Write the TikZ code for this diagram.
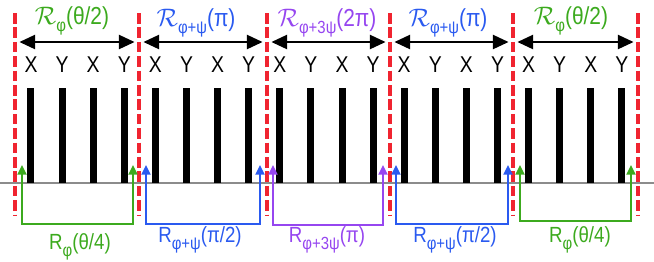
\documentclass[tikz,border=0pt]{standalone}
\usepackage{fontspec}
\setmainfont{Liberation Sans}[FakeStretch=0.85]
\usepackage{tikz}
\usetikzlibrary{arrows.meta}
\usepackage{xcolor}
\definecolor{cutred}{HTML}{F02430}
\definecolor{opgreen}{HTML}{3CAA1E}
\definecolor{opblue}{HTML}{2A5AF0}
\definecolor{oppurple}{HTML}{9646F0}
\definecolor{basegray}{HTML}{8C8C8C}
\newcommand{\subfont}{\fontsize{10}{11}\selectfont}
\newcommand{\opR}[2]{$\mathcal{R}$\raisebox{-0.6ex}{\subfont #1}(#2)}
\newcommand{\pulseR}[2]{R\raisebox{-0.65ex}{\subfont #1}(#2)}

\begin{document}
\begin{tikzpicture}[x=0.02cm, y=-0.02cm,
    cut/.style={draw=cutred, line width=2pt, dash pattern=on 6pt off 2.2pt},
    span/.style={draw=black, line width=1.4pt, {Triangle[length=9pt,width=8pt]}-{Triangle[length=9pt,width=8pt]},
                 shorten <=2.5pt, shorten >=2.5pt},
    conn/.style={line width=1.3pt, {Triangle[length=5.5pt,width=5pt]}-{Triangle[length=5.5pt,width=5pt]}},
    letter/.style={font=\fontsize{13}{15}\selectfont, inner sep=0pt},
    toplbl/.style={font=\fontsize{14}{16}\selectfont, anchor=base, inner sep=0pt},
    botlbl/.style={font=\fontsize{12.5}{14}\selectfont, anchor=base, inner sep=0pt}]
    \useasboundingbox (0,0) rectangle (654,261);
    % baseline and pulses
    \draw[basegray, line width=0.6pt] (0,183) -- (654,183);
    \foreach \k in {0,...,19}
        \fill (31+31.1*\k-3.5,88) rectangle ++(7,95);
    \foreach \k in {0,2,...,18}
        \node[letter] (x\k) at (31+31.1*\k,65) {X};
    \foreach \k in {1,3,...,19}
        \node[letter] (y\k) at (31+31.1*\k,65) {Y};
    % cuts between blocks
    \foreach \i/\xx in {0/15,1/139,2/267,3/390,4/513,5/638} {
        \draw[cut] (\xx,13) -- (\xx,216);
        \coordinate (a\i) at (\xx,42);
    }
    \draw[span] (a0) -- (a1);
    \draw[span] (a1) -- (a2);
    \draw[span] (a2) -- (a3);
    \draw[span] (a3) -- (a4);
    \draw[span] (a4) -- (a5);
    \node[toplbl, text=opgreen]  (top1) at (72,24)  {\opR{φ}{θ/2}};
    \node[toplbl, text=opblue]   (top2) at (196,26) {\opR{φ+ψ}{π}};
    \node[toplbl, text=oppurple] (top3) at (327,26) {\opR{φ+3ψ}{2π}};
    \node[toplbl, text=opblue]   (top4) at (448,26) {\opR{φ+ψ}{π}};
    \node[toplbl, text=opgreen]  (top5) at (571,24) {\opR{φ}{θ/2}};
    % bottom pulses
    \coordinate (g1l) at (22,165);  \coordinate (g1r) at (133,165);
    \coordinate (b1l) at (146,165); \coordinate (b1r) at (260,165);
    \coordinate (p1l) at (273,165); \coordinate (p1r) at (383,165);
    \coordinate (b2l) at (396,165); \coordinate (b2r) at (508,165);
    \coordinate (g2l) at (520,165); \coordinate (g2r) at (631,165);
    \draw[conn, opgreen]  (g1l) -- (g1l |- 0,224) -- (g1r |- 0,224) -- (g1r);
    \draw[conn, opblue]   (b1l) -- (b1l |- 0,224) -- (b1r |- 0,224) -- (b1r);
    \draw[conn, oppurple] (p1l) -- (p1l |- 0,225) -- (p1r |- 0,225) -- (p1r);
    \draw[conn, opblue]   (b2l) -- (b2l |- 0,224) -- (b2r |- 0,224) -- (b2r);
    \draw[conn, opgreen]  (g2l) -- (g2l |- 0,221) -- (g2r |- 0,221) -- (g2r);
    \node[botlbl, text=opgreen]  (bot1) at (80,249)  {\pulseR{φ}{θ/4}};
    \node[botlbl, text=opblue]   (bot2) at (200,242) {\pulseR{φ+ψ}{π/2}};
    \node[botlbl, text=oppurple] (bot3) at (327,242) {\pulseR{φ+3ψ}{π}};
    \node[botlbl, text=opblue]   (bot4) at (455,242) {\pulseR{φ+ψ}{π/2}};
    \node[botlbl, text=opgreen]  (bot5) at (580,242) {\pulseR{φ}{θ/4}};
\end{tikzpicture}
\end{document}
